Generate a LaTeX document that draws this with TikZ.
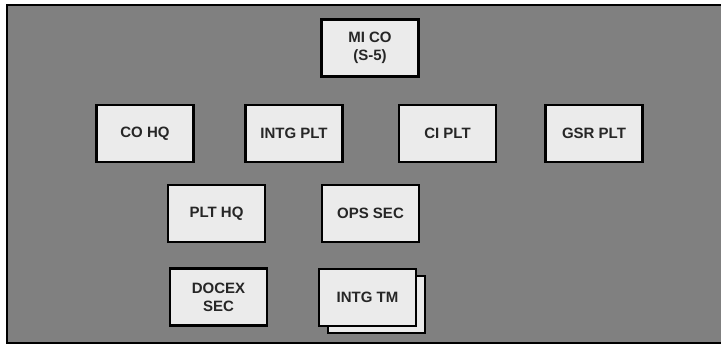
\documentclass[tikz,border=0pt]{standalone}
\usepackage{fontspec}
\setmainfont{Liberation Sans}
\begin{document}
\begin{tikzpicture}[x=1pt,y=-1pt,
  orgbox/.style={draw=black,line width=2.6pt,fill=black!8,minimum width=97pt,minimum height=57pt,
    inner sep=0pt,align=center,text=black!85,font=\fontsize{15}{17}\selectfont\bfseries},
  shadowbox/.style={draw=black,line width=2.2pt,fill=black!8,minimum width=97pt,minimum height=57pt,inner sep=0pt}]
\useasboundingbox (0,0) rectangle (721,345);
\fill[black!50] (7,5) rectangle (721,343);
\draw[line width=2.6pt] (721,5) -- (7,5) -- (7,343) -- (721,343);
% top
\node[orgbox] (mico) at (370,48) {MI CO\\[1pt](S-5)};
% row 2
\node[orgbox] (cohq) at (145,133.5) {CO HQ};
\node[orgbox] (intgplt) at (294,133.5) {INTG PLT};
\node[orgbox] (ciplt) at (447.5,133.5) {CI PLT};
\node[orgbox] (gsrplt) at (594,133.5) {GSR PLT};
% row 3
\node[orgbox] (plthq) at (216.5,213.5) {PLT HQ};
\node[orgbox] (opssec) at (370.5,213.5) {OPS SEC};
% row 4
\node[orgbox] (docex) at (218.5,297) {DOCEX\\[1pt]SEC};
\node[shadowbox] (intgtmb) at (376.5,304.5) {};
\node[orgbox] (intgtm) at (367.5,297.5) {INTG TM};
\end{tikzpicture}
\end{document}
